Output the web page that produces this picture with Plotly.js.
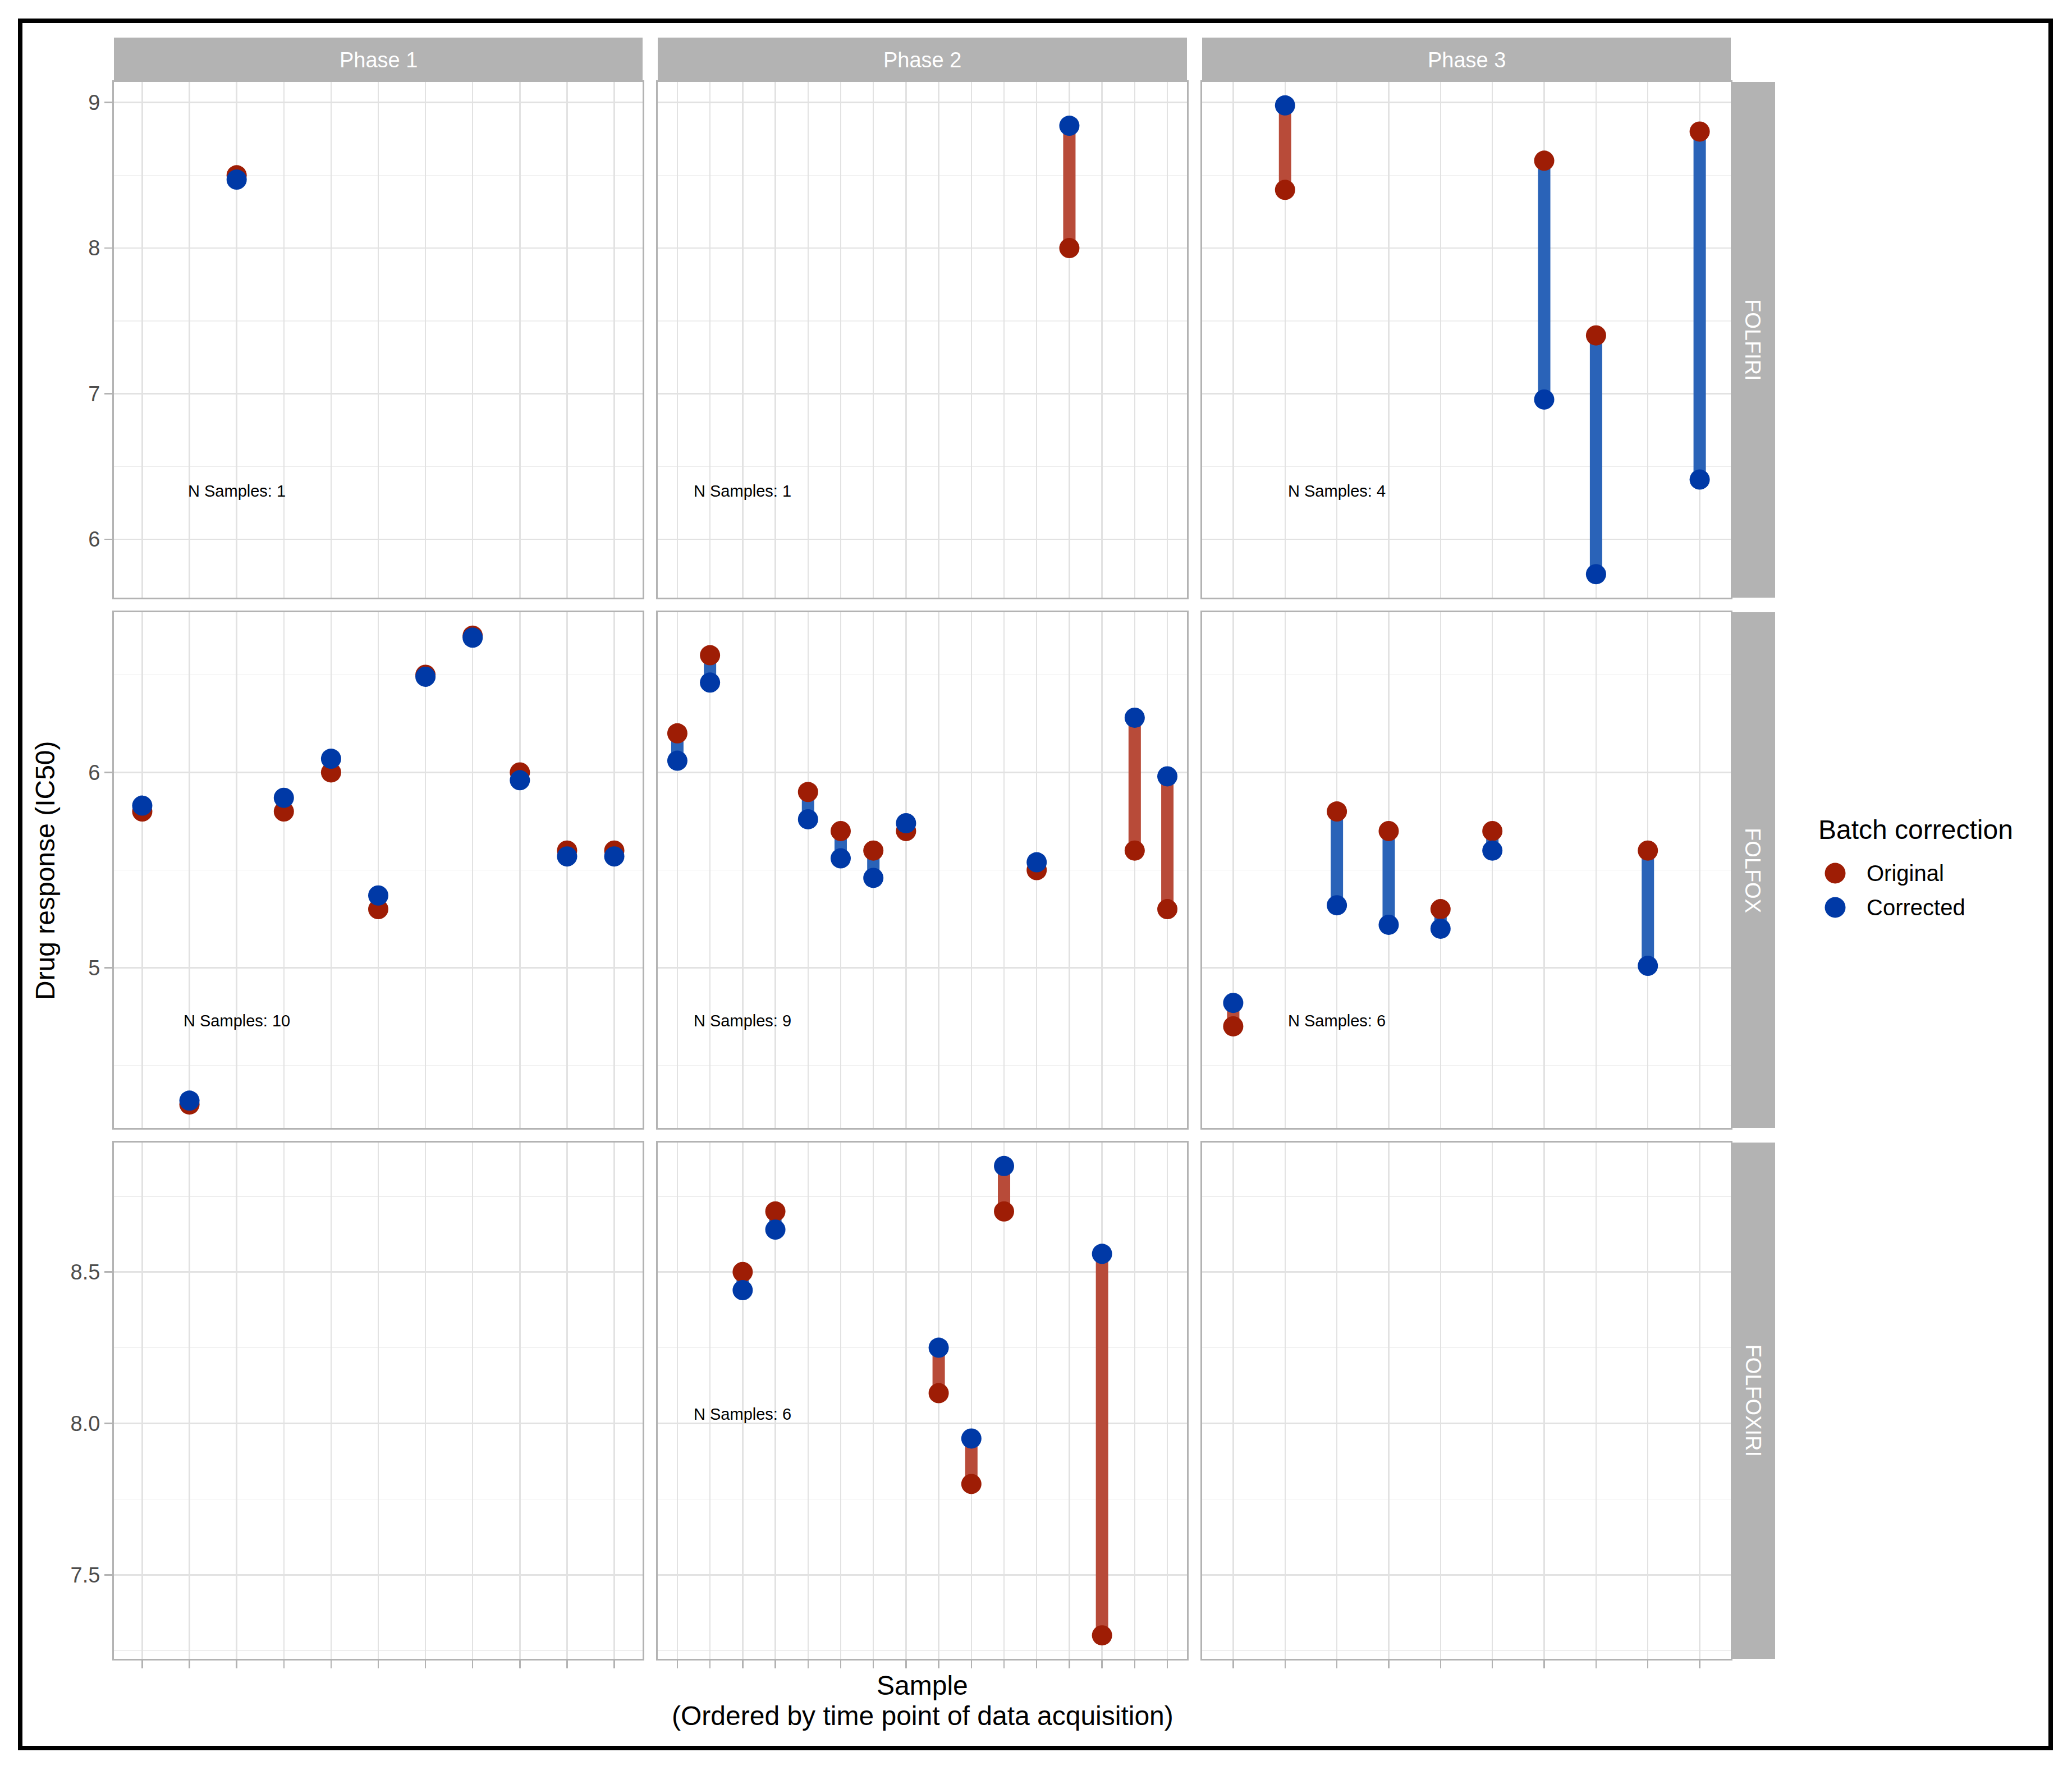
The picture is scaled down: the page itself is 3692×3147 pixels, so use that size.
<!DOCTYPE html>
<html>
<head>
<meta charset="utf-8">
<script src="https://cdn.plot.ly/plotly-3.0.1.min.js"></script>
<style>html,body{margin:0;padding:0;background:#fff}</style>
</head>
<body>
<div id="chart" style="width:3692px;height:3147px"></div>
<script>
// Facet labels
const phases = ['Phase 1', 'Phase 2', 'Phase 3'];
const regimens = ['FOLFIRI', 'FOLFOX', 'FOLFOXIRI'];
// Number of samples acquired in each phase (x slots per column)
const samplesPerPhase = [11, 16, 10];

// Sample slot (order of acquisition inside the phase), original and corrected IC50.
// One inner list per phase.
const folfiriSample    = [[3], [13], [2, 7, 8, 10]];
const folfiriOriginal  = [[8.50], [8.00], [8.40, 8.60, 7.40, 8.80]];
const folfiriCorrected = [[8.47], [8.84], [8.98, 6.96, 5.76, 6.41]];

const folfoxSample    = [[1, 2, 4, 5, 6, 7, 8, 9, 10, 11], [1, 2, 5, 6, 7, 8, 12, 15, 16], [1, 3, 4, 5, 6, 9]];
const folfoxOriginal  = [[5.80, 4.30, 5.80, 6.00, 5.30, 6.50, 6.70, 6.00, 5.60, 5.60],
                         [6.20, 6.60, 5.90, 5.70, 5.60, 5.70, 5.50, 5.60, 5.30],
                         [4.70, 5.80, 5.70, 5.30, 5.70, 5.60]];
const folfoxCorrected = [[5.83, 4.32, 5.87, 6.07, 5.37, 6.49, 6.69, 5.96, 5.57, 5.57],
                         [6.06, 6.46, 5.76, 5.56, 5.46, 5.74, 5.54, 6.28, 5.98],
                         [4.82, 5.32, 5.22, 5.20, 5.60, 5.01]];

const folfoxiriSample    = [[], [3, 4, 9, 10, 11, 14], []];
const folfoxiriOriginal  = [[], [8.50, 8.70, 8.10, 7.80, 8.70, 7.30], []];
const folfoxiriCorrected = [[], [8.44, 8.64, 8.25, 7.95, 8.85, 8.56], []];

// Legend entries
const seriesNames = ['Original', 'Corrected'];

// Axis title lines
const xTitleLines = ['Sample', '(Ordered by time point of data acquisition)'];
const yTitle = 'Drug response (IC50)';

// Placement of the "N Samples" note in each regimen row (slot, value)
const noteSlot = 3;
const noteY = [6.33, 4.73, 8.03];

// ---------------------------------------------------------------------------
const rowsSample    = [folfiriSample, folfoxSample, folfoxiriSample];
const rowsOriginal  = [folfiriOriginal, folfoxOriginal, folfoxiriOriginal];
const rowsCorrected = [folfiriCorrected, folfoxCorrected, folfoxiriCorrected];

const W = 3692, H = 3147;
const FONT = 'Liberation Sans, Arial, Helvetica, sans-serif';
const COL_ORIG = '#9E1D05', COL_CORR = '#0039A6';
const SEG_UP = '#B84B39', SEG_DOWN = '#2A63B8';
const STRIP = '#B3B3B3', BORDER = '#B3B3B3';
const GRID = '#E2E2E2', GRID_MINOR = '#EEEEEE';

// panel geometry in pixels
const colPx = [[203, 1145], [1172, 2115], [2142, 3084]];
const rowPx = [[146, 1065], [1091, 2010], [2036, 2956]];
const stripTop = [67, 146];
const stripRight = [3084, 3163];

const rowDtick = [1, 1, 0.5];
const rowMinor = [0.5, 0.5, 0.25];
const rowFmt = ['d', 'd', '.1f'];

const px = v => v / W;
const py = v => 1 - v / H;

const layout = {
  width: W, height: H,
  margin: {l: 0, r: 0, t: 0, b: 0},
  paper_bgcolor: '#ffffff',
  plot_bgcolor: '#ffffff',
  showlegend: false,
  font: {family: FONT, color: '#000000'},
  shapes: [],
  annotations: []
};
const traces = [];

// y range per regimen row: data span padded by 5% on each side
const rowRange = rowsOriginal.map((rowO, r) => {
  const vals = [].concat(...rowO, ...rowsCorrected[r]);
  const lo = Math.min(...vals), hi = Math.max(...vals);
  const pad = 0.05 * (hi - lo);
  return [lo - pad, hi + pad];
});

for (let r = 0; r < 3; r++) {
  for (let c = 0; c < 3; c++) {
    const k = r * 3 + c + 1;
    const xs = k === 1 ? '' : String(k);
    const n = samplesPerPhase[c];
    const slots = Array.from({length: n}, (_, i) => i + 1);

    layout['xaxis' + xs] = {
      domain: [px(colPx[c][0]), px(colPx[c][1])],
      anchor: 'y' + xs,
      range: [0.4, n + 0.6],
      tickmode: 'array', tickvals: slots, showticklabels: false,
      ticks: r === 2 ? 'outside' : '', ticklen: 14, tickwidth: 2.5, tickcolor: BORDER,
      showgrid: true, gridcolor: GRID, gridwidth: 2.5,
      zeroline: false,
      showline: true, mirror: true, linecolor: BORDER, linewidth: 3,
      fixedrange: true
    };
    layout['yaxis' + xs] = {
      domain: [py(rowPx[r][1]), py(rowPx[r][0])],
      anchor: 'x' + xs,
      range: rowRange[r],
      tickmode: 'linear', tick0: 0, dtick: rowDtick[r], tickformat: rowFmt[r],
      showticklabels: c === 0,
      tickfont: {size: 38, color: '#4D4D4D', family: FONT},
      ticks: c === 0 ? 'outside' : '', ticklen: 14, tickwidth: 2.5, tickcolor: BORDER,
      showgrid: true, gridcolor: GRID, gridwidth: 2.5,
      minor: {dtick: rowMinor[r], tick0: 0, showgrid: true, gridcolor: GRID_MINOR, gridwidth: 1.5},
      zeroline: false,
      showline: true, mirror: true, linecolor: BORDER, linewidth: 3,
      fixedrange: true
    };

    // keeps every panel drawn, including those without samples
    traces.push({
      type: 'scatter', mode: 'markers', x: [], y: [],
      xaxis: 'x' + xs, yaxis: 'y' + xs, hoverinfo: 'skip', showlegend: false
    });

    const s = rowsSample[r][c], o = rowsOriginal[r][c], cr = rowsCorrected[r][c];

    // connecting bars: red where correction raised the value, blue where it lowered it
    const up = {x: [], y: []}, down = {x: [], y: []};
    s.forEach((slot, i) => {
      const g = cr[i] > o[i] ? up : down;
      g.x.push(slot, slot, null);
      g.y.push(o[i], cr[i], null);
    });
    [[up, SEG_UP], [down, SEG_DOWN]].forEach(([g, col]) => {
      if (g.x.length) traces.push({
        type: 'scatter', mode: 'lines', x: g.x, y: g.y,
        xaxis: 'x' + xs, yaxis: 'y' + xs,
        line: {color: col, width: 22}, hoverinfo: 'skip', showlegend: false
      });
    });

    if (s.length) {
      traces.push({
        type: 'scatter', mode: 'markers', name: seriesNames[0], x: s, y: o,
        xaxis: 'x' + xs, yaxis: 'y' + xs,
        marker: {size: 36, color: COL_ORIG, line: {width: 0}}, showlegend: false
      });
      traces.push({
        type: 'scatter', mode: 'markers', name: seriesNames[1], x: s, y: cr,
        xaxis: 'x' + xs, yaxis: 'y' + xs,
        marker: {size: 36, color: COL_CORR, line: {width: 0}}, showlegend: false
      });
      layout.annotations.push({
        xref: 'x' + xs, yref: 'y' + xs, x: noteSlot, y: noteY[r],
        text: 'N Samples: ' + s.length, showarrow: false,
        xanchor: 'center', yanchor: 'middle',
        font: {size: 29, color: '#000000', family: FONT}
      });
    }
  }
}

// facet strips: phases along the top, regimens down the right side
phases.forEach((p, c) => {
  layout.shapes.push({
    type: 'rect', xref: 'paper', yref: 'paper', layer: 'below',
    x0: px(colPx[c][0]), x1: px(colPx[c][1]), y0: py(stripTop[1]), y1: py(stripTop[0]),
    fillcolor: STRIP, line: {width: 0}
  });
  layout.annotations.push({
    xref: 'paper', yref: 'paper', x: px((colPx[c][0] + colPx[c][1]) / 2),
    y: py((stripTop[0] + stripTop[1]) / 2), text: p, showarrow: false,
    xanchor: 'center', yanchor: 'middle', font: {size: 38, color: '#FFFFFF', family: FONT}
  });
});
regimens.forEach((g, r) => {
  layout.shapes.push({
    type: 'rect', xref: 'paper', yref: 'paper', layer: 'below',
    x0: px(stripRight[0]), x1: px(stripRight[1]), y0: py(rowPx[r][1]), y1: py(rowPx[r][0]),
    fillcolor: STRIP, line: {width: 0}
  });
  layout.annotations.push({
    xref: 'paper', yref: 'paper', x: px((stripRight[0] + stripRight[1]) / 2),
    y: py((rowPx[r][0] + rowPx[r][1]) / 2), text: g, showarrow: false, textangle: 90,
    xanchor: 'center', yanchor: 'middle', font: {size: 38, color: '#FFFFFF', family: FONT}
  });
});

// axis titles shared by all panels
layout.annotations.push({
  xref: 'paper', yref: 'paper', x: px(80), y: py((rowPx[0][0] + rowPx[2][1]) / 2),
  text: yTitle, showarrow: false, textangle: -90,
  xanchor: 'center', yanchor: 'middle', font: {size: 48, color: '#000000', family: FONT}
});
const xTitleY = [3003, 3057];
xTitleLines.forEach((line, i) => {
  layout.annotations.push({
    xref: 'paper', yref: 'paper', x: px((colPx[1][0] + colPx[1][1]) / 2), y: py(xTitleY[i]),
    text: line, showarrow: false, xanchor: 'center', yanchor: 'middle',
    font: {size: 48, color: '#000000', family: FONT}
  });
});

// legend
layout.annotations.push({
  xref: 'paper', yref: 'paper', x: px(3238), y: py(1478),
  text: 'Batch correction', showarrow: false, xanchor: 'left', yanchor: 'middle',
  font: {size: 48, color: '#000000', family: FONT}
});
const legendColors = [COL_ORIG, COL_CORR];
const legendRowY = [1556, 1617];
seriesNames.forEach((name, i) => {
  const cy = legendRowY[i], cx = 3270, rad = 18.5;
  layout.shapes.push({
    type: 'circle', xref: 'paper', yref: 'paper',
    x0: px(cx - rad), x1: px(cx + rad), y0: py(cy + rad), y1: py(cy - rad),
    fillcolor: legendColors[i], line: {width: 0}
  });
  layout.annotations.push({
    xref: 'paper', yref: 'paper', x: px(3324), y: py(cy),
    text: name, showarrow: false, xanchor: 'left', yanchor: 'middle',
    font: {size: 40, color: '#000000', family: FONT}
  });
});

// outer frame
layout.shapes.push({
  type: 'rect', xref: 'paper', yref: 'paper',
  x0: px(36), x1: px(3654), y0: py(3115), y1: py(37),
  fillcolor: 'rgba(0,0,0,0)', line: {color: '#000000', width: 8}
});

Plotly.newPlot('chart', traces, layout, {staticPlot: true, displayModeBar: false});
</script>
</body>
</html>
